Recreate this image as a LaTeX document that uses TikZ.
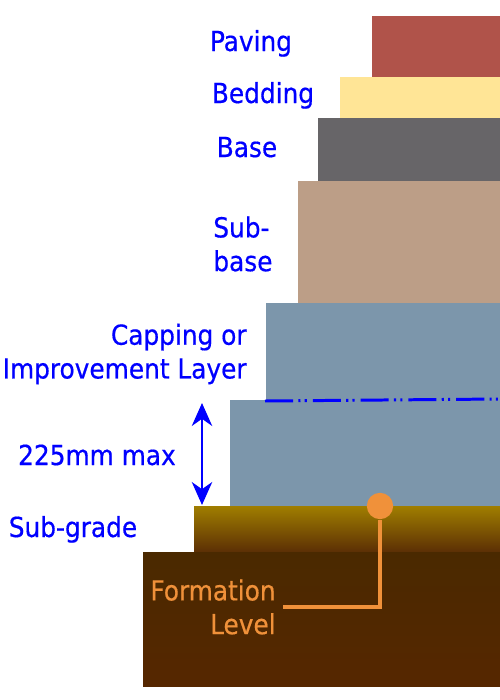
\documentclass[tikz,border=0pt]{standalone}
\usepackage{fontspec}
\setmainfont[FakeBold=0.5]{DejaVu Sans Condensed}
\usetikzlibrary{arrows.meta}
\definecolor{cpaving}{HTML}{B0534A}
\definecolor{cbedding}{HTML}{FFE596}
\definecolor{cbase}{HTML}{676568}
\definecolor{csubbase}{HTML}{BC9E87}
\definecolor{ccapping}{HTML}{7C96AB}
\definecolor{cgradetop}{HTML}{A07E00}
\definecolor{cgradebot}{HTML}{5C2F05}
\definecolor{cgroundtop}{HTML}{4A2900}
\definecolor{cgroundbot}{HTML}{562700}
\definecolor{cformation}{HTML}{F0913A}
\tikzset{
	layertext/.style={text=blue, inner sep=0pt, font=\fontsize{15.7}{19.2}\selectfont},
	formtext/.style={text=cformation, inner xsep=4pt, inner ysep=0pt, font=\fontsize{15.7}{19.2}\selectfont},
}

\begin{document}
\begin{tikzpicture}[x=0.02cm, y=-0.02cm]
	\useasboundingbox (0,0) rectangle (500,700);
	% layers
	\fill[cpaving] (372,16) rectangle (500,77);
	\fill[cbedding] (340,77) rectangle (500,118);
	\fill[cbase] (318,118) rectangle (500,181);
	\fill[csubbase] (298,181) rectangle (500,303);
	\fill[ccapping] (266,303) rectangle (500,402);
	\fill[ccapping] (230,400) rectangle (500,506);
	\shade[top color=cgradetop, bottom color=cgradebot] (194,506) rectangle (500,552);
	\shade[top color=cgroundtop, bottom color=cgroundbot] (143,552) rectangle (500,686);
	\draw[blue, line width=1.7pt, dash pattern=on 16pt off 3pt on 1.2pt off 2.4pt on 1.2pt off 3.4pt] (265,401) -- (500,399);
	% labels
	\node[layertext, anchor=base] (paving) at (251,51) {Paving};
	\node[layertext, anchor=base] (bedding) at (263,103) {Bedding};
	\node[layertext, anchor=base] (base) at (247,157) {Base};
	\node[layertext, align=left, anchor=west] (subbase) at (213,244) {Sub-\\base};
	\node[layertext, align=right, anchor=east] (capping) at (247,354) {Capping or\\Improvement Layer};
	\node[layertext, anchor=base] (maxdepth) at (97,465) {225mm max};
	\node[layertext, anchor=base] (subgrade) at (73,537) {Sub-grade};
	% depth arrow
	\coordinate (captop) at (202,403);
	\coordinate (capbot) at (202,505);
	\draw[blue, line width=1.7pt, {Stealth[length=13pt,width=11.5pt,inset=4pt]}-{Stealth[length=13pt,width=11.5pt,inset=4pt]}] (captop) -- (capbot);
	% formation level
	\node[formtext, align=right, anchor=east] (formation) at (283,607) {Formation\\Level};
	\node[circle, fill=cformation, inner sep=0pt, minimum size=15pt] (level) at (380,506) {};
	\draw[cformation, line width=2.3pt] (level.south) |- (formation.east);
\end{tikzpicture}
\end{document}
